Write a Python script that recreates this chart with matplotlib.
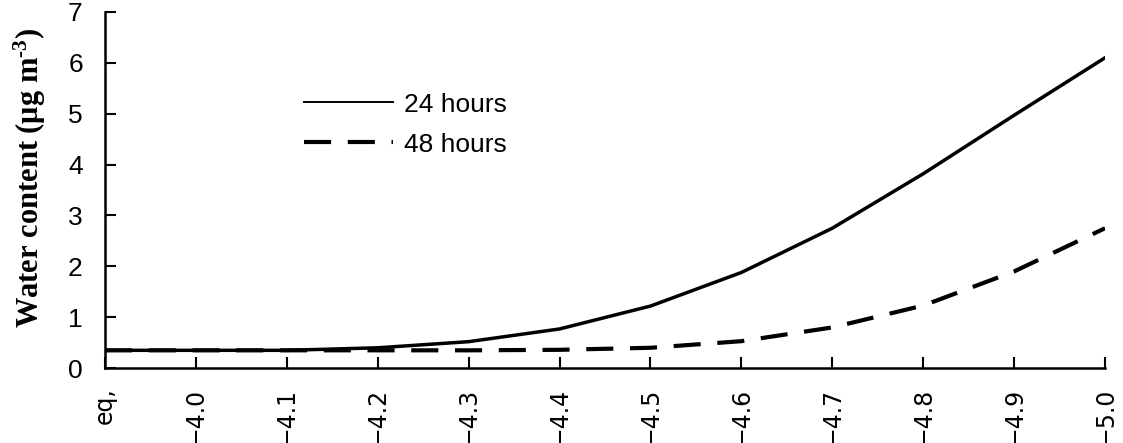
import numpy as np
import matplotlib.pyplot as plt
from matplotlib.lines import Line2D

labels = ['eq,', '\u22124.0', '\u22124.1', '\u22124.2', '\u22124.3', '\u22124.4',
          '\u22124.5', '\u22124.6', '\u22124.7', '\u22124.8', '\u22124.9', '\u22125.0']
h24 = [0.35, 0.35, 0.35, 0.40, 0.52, 0.77, 1.22, 1.88, 2.75, 3.82, 4.97, 6.10]
h48 = [0.35, 0.35, 0.35, 0.35, 0.35, 0.36, 0.40, 0.53, 0.80, 1.23, 1.90, 2.75]

plt.rcParams['font.family'] = ['Liberation Sans', 'DejaVu Sans']
plt.rcParams['mathtext.fontset'] = 'custom'
plt.rcParams['mathtext.rm'] = 'Liberation Serif:bold'
plt.rcParams['mathtext.it'] = 'Liberation Serif:bold'
plt.rcParams['mathtext.bf'] = 'Liberation Serif:bold'

fig = plt.figure(figsize=(11.23, 4.43), dpi=100)
ax = fig.add_axes([0.0935, 0.169, 0.8905, 0.804])

x = np.arange(len(labels))
ax.plot(x, h24, color='black', lw=2.5)
ax.plot(x, h48, color='black', lw=3.0, dashes=(6.5, 4))

ax.set_xlim(0, len(labels) - 1)
ax.set_ylim(0, 7)
ax.set_xticks(x)
ax.set_xticklabels(labels, rotation=90, fontsize=17, family='DejaVu Sans')
ax.set_yticks(range(8))
ax.tick_params(axis='y', labelsize=19, direction='in', length=8, width=1.5, pad=16)
ax.tick_params(axis='x', direction='in', length=8, width=1.5, pad=14)
for s in ['top', 'right']:
    ax.spines[s].set_visible(False)
for s in ['left', 'bottom']:
    ax.spines[s].set_linewidth(1.8)

ax.set_ylabel('Water content (\u03bcg m$^{\\text{-}3}$)', family=['Liberation Serif', 'DejaVu Serif'],
              fontweight='bold', fontsize=22)
ax.yaxis.set_label_coords(-0.057, 0.535)

handles = [Line2D([], [], color='black', lw=1.4),
           Line2D([], [], color='black', lw=3.0, dashes=(6.5, 4))]
ax.legend(handles, ['24 hours', '48 hours'], loc='upper left', bbox_to_anchor=(0.175, 0.84),
          frameon=False, fontsize=19, handlelength=3.4, handletextpad=0.4, labelspacing=0.6)

fig.savefig('out.png', dpi=100)
